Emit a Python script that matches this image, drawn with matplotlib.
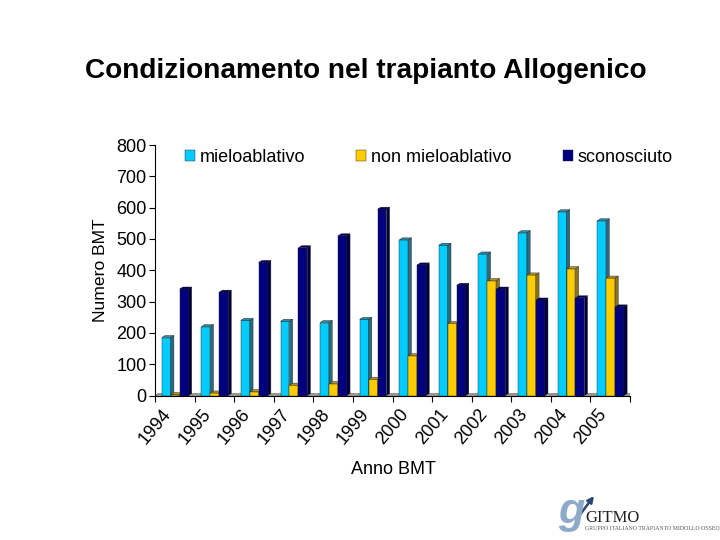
import numpy as np
import matplotlib
matplotlib.use('Agg')
import matplotlib.pyplot as plt
from matplotlib.transforms import ScaledTranslation

plt.rcParams['font.family'] = ['Liberation Sans', 'DejaVu Sans']

years = ['1994', '1995', '1996', '1997', '1998', '1999',
         '2000', '2001', '2002', '2003', '2004', '2005']
mielo = [185, 220, 240, 237, 233, 243, 497, 480, 452, 520, 587, 558]
non_mielo = [3, 8, 12, 33, 38, 52, 127, 230, 367, 385, 405, 375]
sconosciuto = [340, 330, 425, 472, 510, 595, 417, 352, 340, 305, 312, 283]

# 3D look: offset of the side/top faces, in data units
DX = 0.08
DY = 6.5
W = 0.225


def bars3d(ax, pos, vals, front, side, top, label):
    ax.bar(pos, vals, W, color=front, edgecolor='#202020', linewidth=0.3, label=label, zorder=3)
    for p, v in zip(pos, vals):
        l, r = p - W / 2, p + W / 2
        ax.fill([r, r + DX, r + DX, r], [0, DY, v + DY, v], color=side, ec='#202020', lw=0.3, zorder=3)
        ax.fill([l, l + DX, r + DX, r], [v, v + DY, v + DY, v], color=top, ec='#202020', lw=0.3, zorder=3)


fig = plt.figure(figsize=(7.2, 5.4), dpi=100)
ax = fig.add_axes([155 / 720, (540 - 395.5) / 540, 475 / 720, 250.5 / 540])

x = np.arange(12) + 0.5
# floor of the chart
ax.fill([0, 12, 12 + DX, DX], [0, 0, DY, DY], color='#9a9a8c', ec='#505050', lw=0.3, zorder=1)
bars3d(ax, x - W + 0.01, mielo, '#00ccff', '#2c6a80', '#2c8aa8', 'mieloablativo')
bars3d(ax, x + 0.01, non_mielo, '#ffcc00', '#8a7420', '#b09428', 'non mieloablativo')
bars3d(ax, x + W + 0.01, sconosciuto, '#000080', '#000040', '#00005e', 'sconosciuto')

ax.set_xlim(0, 12)
ax.set_ylim(0, 800)
ax.set_yticks(range(0, 801, 100))
ax.set_xticks(range(13))
ax.set_xticklabels([])
ax.set_xticks(x, minor=True)
ax.set_xticklabels(years, minor=True, rotation=50, ha='right', va='top', rotation_mode='anchor')
ax.tick_params(axis='x', which='minor', length=0, pad=9, labelsize=13)
ax.tick_params(axis='x', which='major', length=4, width=0.8)
ax.tick_params(axis='y', length=4, width=0.8, labelsize=13, pad=2)
# year labels sit left of the group centre
for t in ax.get_xticklabels(minor=True):
    t.set_transform(t.get_transform() + ScaledTranslation(-13 / 100, 2 / 100, fig.dpi_scale_trans))
ax.spines['top'].set_visible(False)
ax.spines['right'].set_visible(False)
ax.set_ylabel('Numero BMT', fontsize=12.6, labelpad=6)
fig.text(393 / 720, 1 - 469 / 540, 'Anno BMT', fontsize=13, ha='center', va='center')

ax.legend(ncol=3, frameon=False, fontsize=13, loc='center left',
          bbox_to_anchor=(30 / 475, 238 / 250.5), handlelength=0.55, handleheight=0.55,
          handletextpad=0.25, columnspacing=2.85, borderpad=0, borderaxespad=0)

fig.text(366 / 720, 1 - 71 / 540, 'Condizionamento nel trapianto Allogenico',
         fontsize=20.2, fontweight='bold', ha='center', va='center')

# GITMO logo
fig.text(571 / 720, 1 - 512 / 540, 'g', fontsize=31, style='italic', fontweight='bold',
         color='#8fa9c9', ha='center', va='center')
fig.add_artist(matplotlib.patches.FancyArrowPatch(
    (576 / 720, 1 - 520 / 540), (594 / 720, 1 - 496 / 540), transform=fig.transFigure,
    arrowstyle='-|>', mutation_scale=9, lw=1.8, color='#2c4a70', shrinkA=0, shrinkB=0))
fig.text(585 / 720, 1 - 518 / 540, 'GITMO', fontsize=12, family='Liberation Serif',
         color='#222222', va='center')
fig.text(585 / 720, 1 - 529 / 540, 'GRUPPO ITALIANO TRAPIANTO MIDOLLO OSSEO', fontsize=4.2,
         family='Liberation Serif', color='#555555', va='center')

fig.savefig('out.png', dpi=100)
